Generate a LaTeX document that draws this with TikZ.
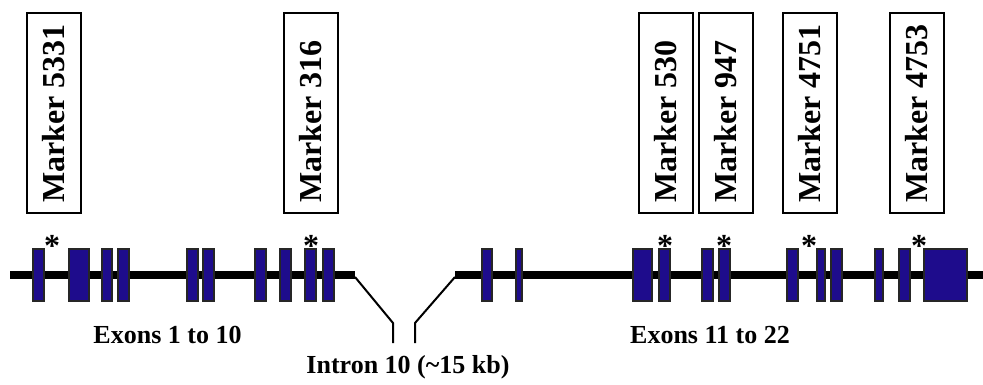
\documentclass[tikz,border=0pt]{standalone}
\usepackage{fontspec}
\setmainfont{Liberation Serif}
\definecolor{exonblue}{RGB}{30,12,140}
% marker text, flush with the lower end of its box
\newcommand\markerlabel[1]{\makebox[180pt][l]{#1}}
\begin{document}
\begin{tikzpicture}[x=1pt,y=-1pt,
  backbone/.style={line width=8pt},
  intronline/.style={line width=2pt},
  exon/.style={draw=black!85, line width=1.2pt, fill=exonblue},
  markerbox/.style={draw, line width=2pt, rotate=90, minimum width=200pt,
    minimum height=54pt, inner sep=0pt,
    font=\fontsize{32}{36}\selectfont\bfseries},
  asterisk/.style={anchor=base, inner sep=0pt, font=\fontsize{32}{36}\selectfont\bfseries},
  caption/.style={anchor=base, inner sep=0pt, font=\fontsize{26}{30}\selectfont\bfseries}]
\useasboundingbox (0,0) rectangle (983,385);

% marker boxes
\node[markerbox] (m5331) at (54,113)    {\markerlabel{Marker 5331}};
\node[markerbox] (m316)  at (310.5,113) {\markerlabel{Marker 316}};
\node[markerbox] (m530)  at (665.5,113) {\markerlabel{Marker 530}};
\node[markerbox] (m947)  at (726,113)   {\markerlabel{Marker 947}};
\node[markerbox] (m4751) at (809.5,113) {\markerlabel{Marker 4751}};
\node[markerbox] (m4753) at (917,113)   {\markerlabel{Marker 4753}};

% gene backbone, split by intron 10
\coordinate (lstart) at (10,275);
\coordinate (lend)   at (355,275);
\coordinate (rstart) at (455,275);
\coordinate (rend)   at (983,275);
\draw[backbone] (lstart) -- (lend);
\draw[backbone] (rstart) -- (rend);

\coordinate (ltop) at (355,277);
\coordinate (lbend) at (393,323);
\coordinate (lfoot) at (393,343);
\coordinate (rtop) at (455,277);
\coordinate (rbend) at (415,323);
\coordinate (rfoot) at (415,343);
\draw[intronline] (ltop) -- (lbend) -- (lfoot);
\draw[intronline] (rtop) -- (rbend) -- (rfoot);

% exons
\foreach \a/\b in {33/44, 69/89, 102/112, 118/129, 187/198, 203/214,
                   255/266, 280/291, 305/316, 323/334,
                   482/492, 516/522, 633/652, 659/670, 702/713, 719/730,
                   787/798, 817/825, 831/842, 875/883, 899/910, 924/967}
  \draw[exon] (\a,249) rectangle (\b,301);

% asterisks over the marked exons
\node[asterisk] (s5331) at (52,256)  {*};
\node[asterisk] (s316)  at (311,256) {*};
\node[asterisk] (s530)  at (665,256) {*};
\node[asterisk] (s947)  at (724,256) {*};
\node[asterisk] (s4751) at (809,256) {*};
\node[asterisk] (s4753) at (919,256) {*};

% captions
\node[caption] (ex1) at (167.5,343) {Exons 1 to 10};
\node[caption] (ex2) at (710,343)   {Exons 11 to 22};
\node[caption] (in10) at (408,373)  {Intron 10 (\textasciitilde15 kb)};
\end{tikzpicture}
\end{document}
